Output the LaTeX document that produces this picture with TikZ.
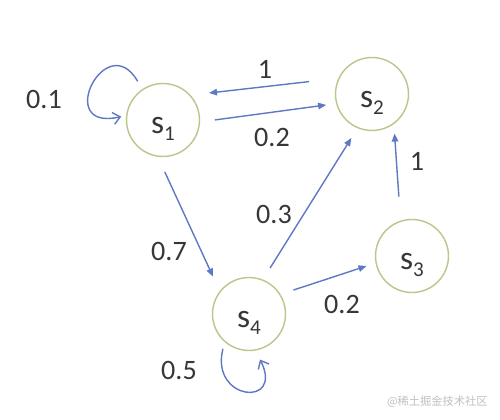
\documentclass[tikz,border=0pt]{standalone}
\usepackage{fontspec}
\setmainfont{Carlito}
\newfontfamily\cjkfont{Noto Sans CJK SC}
\usetikzlibrary{arrows.meta}
\definecolor{ringgreen}{RGB}{184,200,138}
\definecolor{edgeblue}{RGB}{95,120,195}
\definecolor{labelgray}{RGB}{55,55,55}
\tikzset{
  state node/.style={
    circle, draw=ringgreen, line width=0.8pt, fill=white, inner sep=0pt, minimum size=1.46cm,
    text=labelgray, font=\fontsize{19}{21}\selectfont, text height=0.65cm, text depth=0.1cm
  },
  trans edge/.style={
    draw=edgeblue, line width=0.8pt, -{Triangle[length=1.6mm,width=1.3mm]}
  },
  self loop/.style={
    draw=edgeblue, line width=0.8pt, -{Straight Barb[length=1.4mm,width=2.4mm]}
  },
  prob label/.style={
    text=labelgray, font=\fontsize{16}{18}\selectfont, inner sep=0pt
  }
}
\newcommand{\stname}[1]{s\raisebox{-4pt}{\fontsize{12}{13}\selectfont #1}}

\begin{document}
\begin{tikzpicture}[x=0.02cm, y=0.02cm]
\useasboundingbox (0,0) rectangle (500,419);

% 四个状态
\node[state node] (s1) at (163,299) {\stname{1}};
\node[state node] (s2) at (372,325) {\stname{2}};
\node[state node] (s3) at (412,163) {\stname{3}};
\node[state node] (s4) at (249,105) {\stname{4}};

% 状态之间的转移
\draw[trans edge, shorten <=0.30cm, shorten >=0.20cm] (s1.357) -- (s2.195);
\draw[trans edge, shorten <=0.59cm, shorten >=0.37cm] (s2.155) -- (s1.42);
\draw[trans edge, shorten <=0.33cm, shorten >=0.32cm] (s1.262) -- (s4.142);
\draw[trans edge, shorten <=0.27cm, shorten >=0.23cm] (s4.68) -- (s2.247);
\draw[trans edge, shorten <=0.48cm, shorten >=0.19cm] (s3.108) -- (s2.306);
\draw[trans edge, shorten <=0.27cm, shorten >=0.19cm] (s4.32) -- (s3.191);

% 自环
\draw[self loop, shorten <=0.18cm, shorten >=0.10cm]
  (s1.124) .. controls +(120:72) and +(193:75) .. (s1.173);
\draw[self loop, shorten <=0.14cm, shorten >=0.20cm]
  (s4.229) .. controls +(256:61) and +(297:64) .. (s4.280);

% 转移概率
\node[prob label] (p21) at (265,350) {1};
\node[prob label] (p12) at (272,282) {0.2};
\node[prob label] (p11) at (44,320) {0.1};
\node[prob label] (p14) at (169,168) {0.7};
\node[prob label] (p42) at (274,205) {0.3};
\node[prob label] (p32) at (417,258) {1};
\node[prob label] (p43) at (342,115) {0.2};
\node[prob label] (p44) at (179,49) {0.5};

% 水印
\node[text=gray!50, font=\cjkfont\fontsize{6.4}{7}\selectfont, inner sep=0pt, anchor=east]
  (mark) at (488,17) {@稀土掘金技术社区};
\end{tikzpicture}
\end{document}
